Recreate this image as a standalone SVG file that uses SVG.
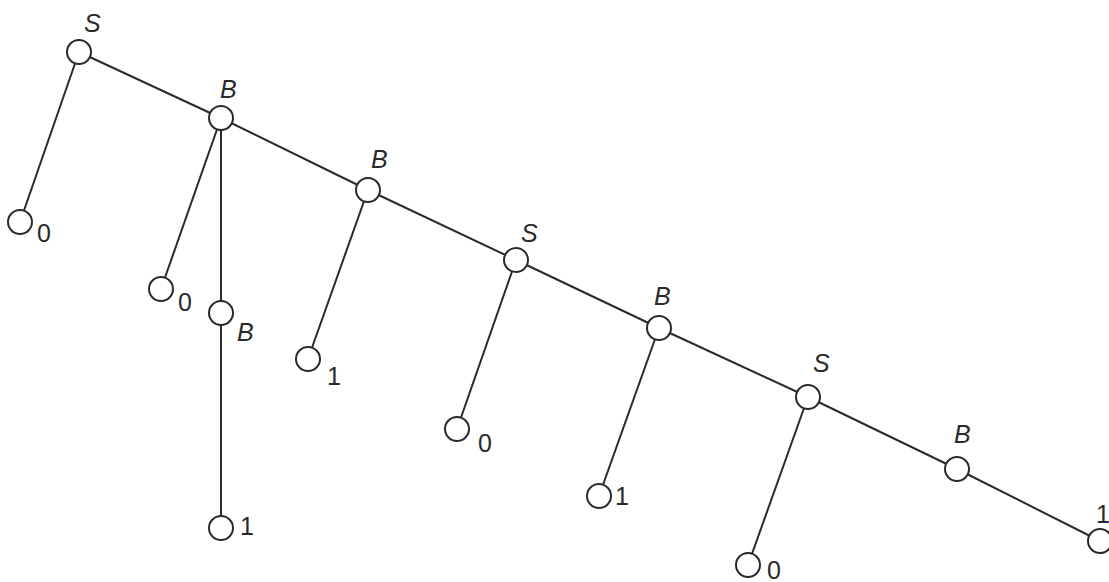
<svg xmlns="http://www.w3.org/2000/svg" width="1109" height="582" viewBox="0 0 1109 582">
<style>
.n{fill:#fff;stroke:#2a2a2a;stroke-width:2}
.e{stroke:#2a2a2a;stroke-width:2;fill:none}
.l{font-family:"Liberation Sans",Arial,sans-serif;font-size:25px;fill:#2a2a2a}
.i{font-style:italic}
</style>
<rect width="1109" height="582" fill="#fff"/>
<g id="connectors">
<polyline class="e" points="79,52 221,118 368,190 516,260 659,328 808,397 957,469 1100,541"/>
<line class="e" x1="79" y1="52" x2="20" y2="222"/>
<line class="e" x1="221" y1="118" x2="161" y2="289"/>
<line class="e" x1="221" y1="118" x2="221" y2="528"/>
<line class="e" x1="368" y1="190" x2="308" y2="359"/>
<line class="e" x1="516" y1="260" x2="457" y2="429"/>
<line class="e" x1="659" y1="328" x2="599" y2="496"/>
<line class="e" x1="808" y1="397" x2="748" y2="565"/>
</g>
<g id="n-s1"><circle class="n" cx="79" cy="52" r="12"/><text class="l i" x="84" y="32">S</text></g>
<g id="n-l1"><circle class="n" cx="20" cy="222" r="12"/><text class="l" x="37" y="242">0</text></g>
<g id="n-b1"><circle class="n" cx="221" cy="118" r="12"/><text class="l i" x="220" y="98">B</text></g>
<g id="n-l2"><circle class="n" cx="161" cy="289" r="12"/><text class="l" x="178" y="311">0</text></g>
<g id="n-b1c"><circle class="n" cx="221" cy="313" r="12"/><text class="l i" x="237" y="341">B</text></g>
<g id="n-l3"><circle class="n" cx="221" cy="528" r="12"/><text class="l" x="240" y="535">1</text></g>
<g id="n-b2"><circle class="n" cx="368" cy="190" r="12"/><text class="l i" x="371" y="168">B</text></g>
<g id="n-l4"><circle class="n" cx="308" cy="359" r="12"/><text class="l" x="327" y="385">1</text></g>
<g id="n-s2"><circle class="n" cx="516" cy="260" r="12"/><text class="l i" x="521" y="242">S</text></g>
<g id="n-l5"><circle class="n" cx="457" cy="429" r="12"/><text class="l" x="478" y="452">0</text></g>
<g id="n-b3"><circle class="n" cx="659" cy="328" r="12"/><text class="l i" x="654" y="305">B</text></g>
<g id="n-l6"><circle class="n" cx="599" cy="496" r="12"/><text class="l" x="615" y="505">1</text></g>
<g id="n-s3"><circle class="n" cx="808" cy="397" r="12"/><text class="l i" x="813" y="372">S</text></g>
<g id="n-l7"><circle class="n" cx="748" cy="565" r="12"/><text class="l" x="767" y="579">0</text></g>
<g id="n-b4"><circle class="n" cx="957" cy="469" r="12"/><text class="l i" x="954" y="443">B</text></g>
<g id="n-l8"><circle class="n" cx="1100" cy="541" r="12"/><text class="l" x="1096" y="523">1</text></g>
</svg>
